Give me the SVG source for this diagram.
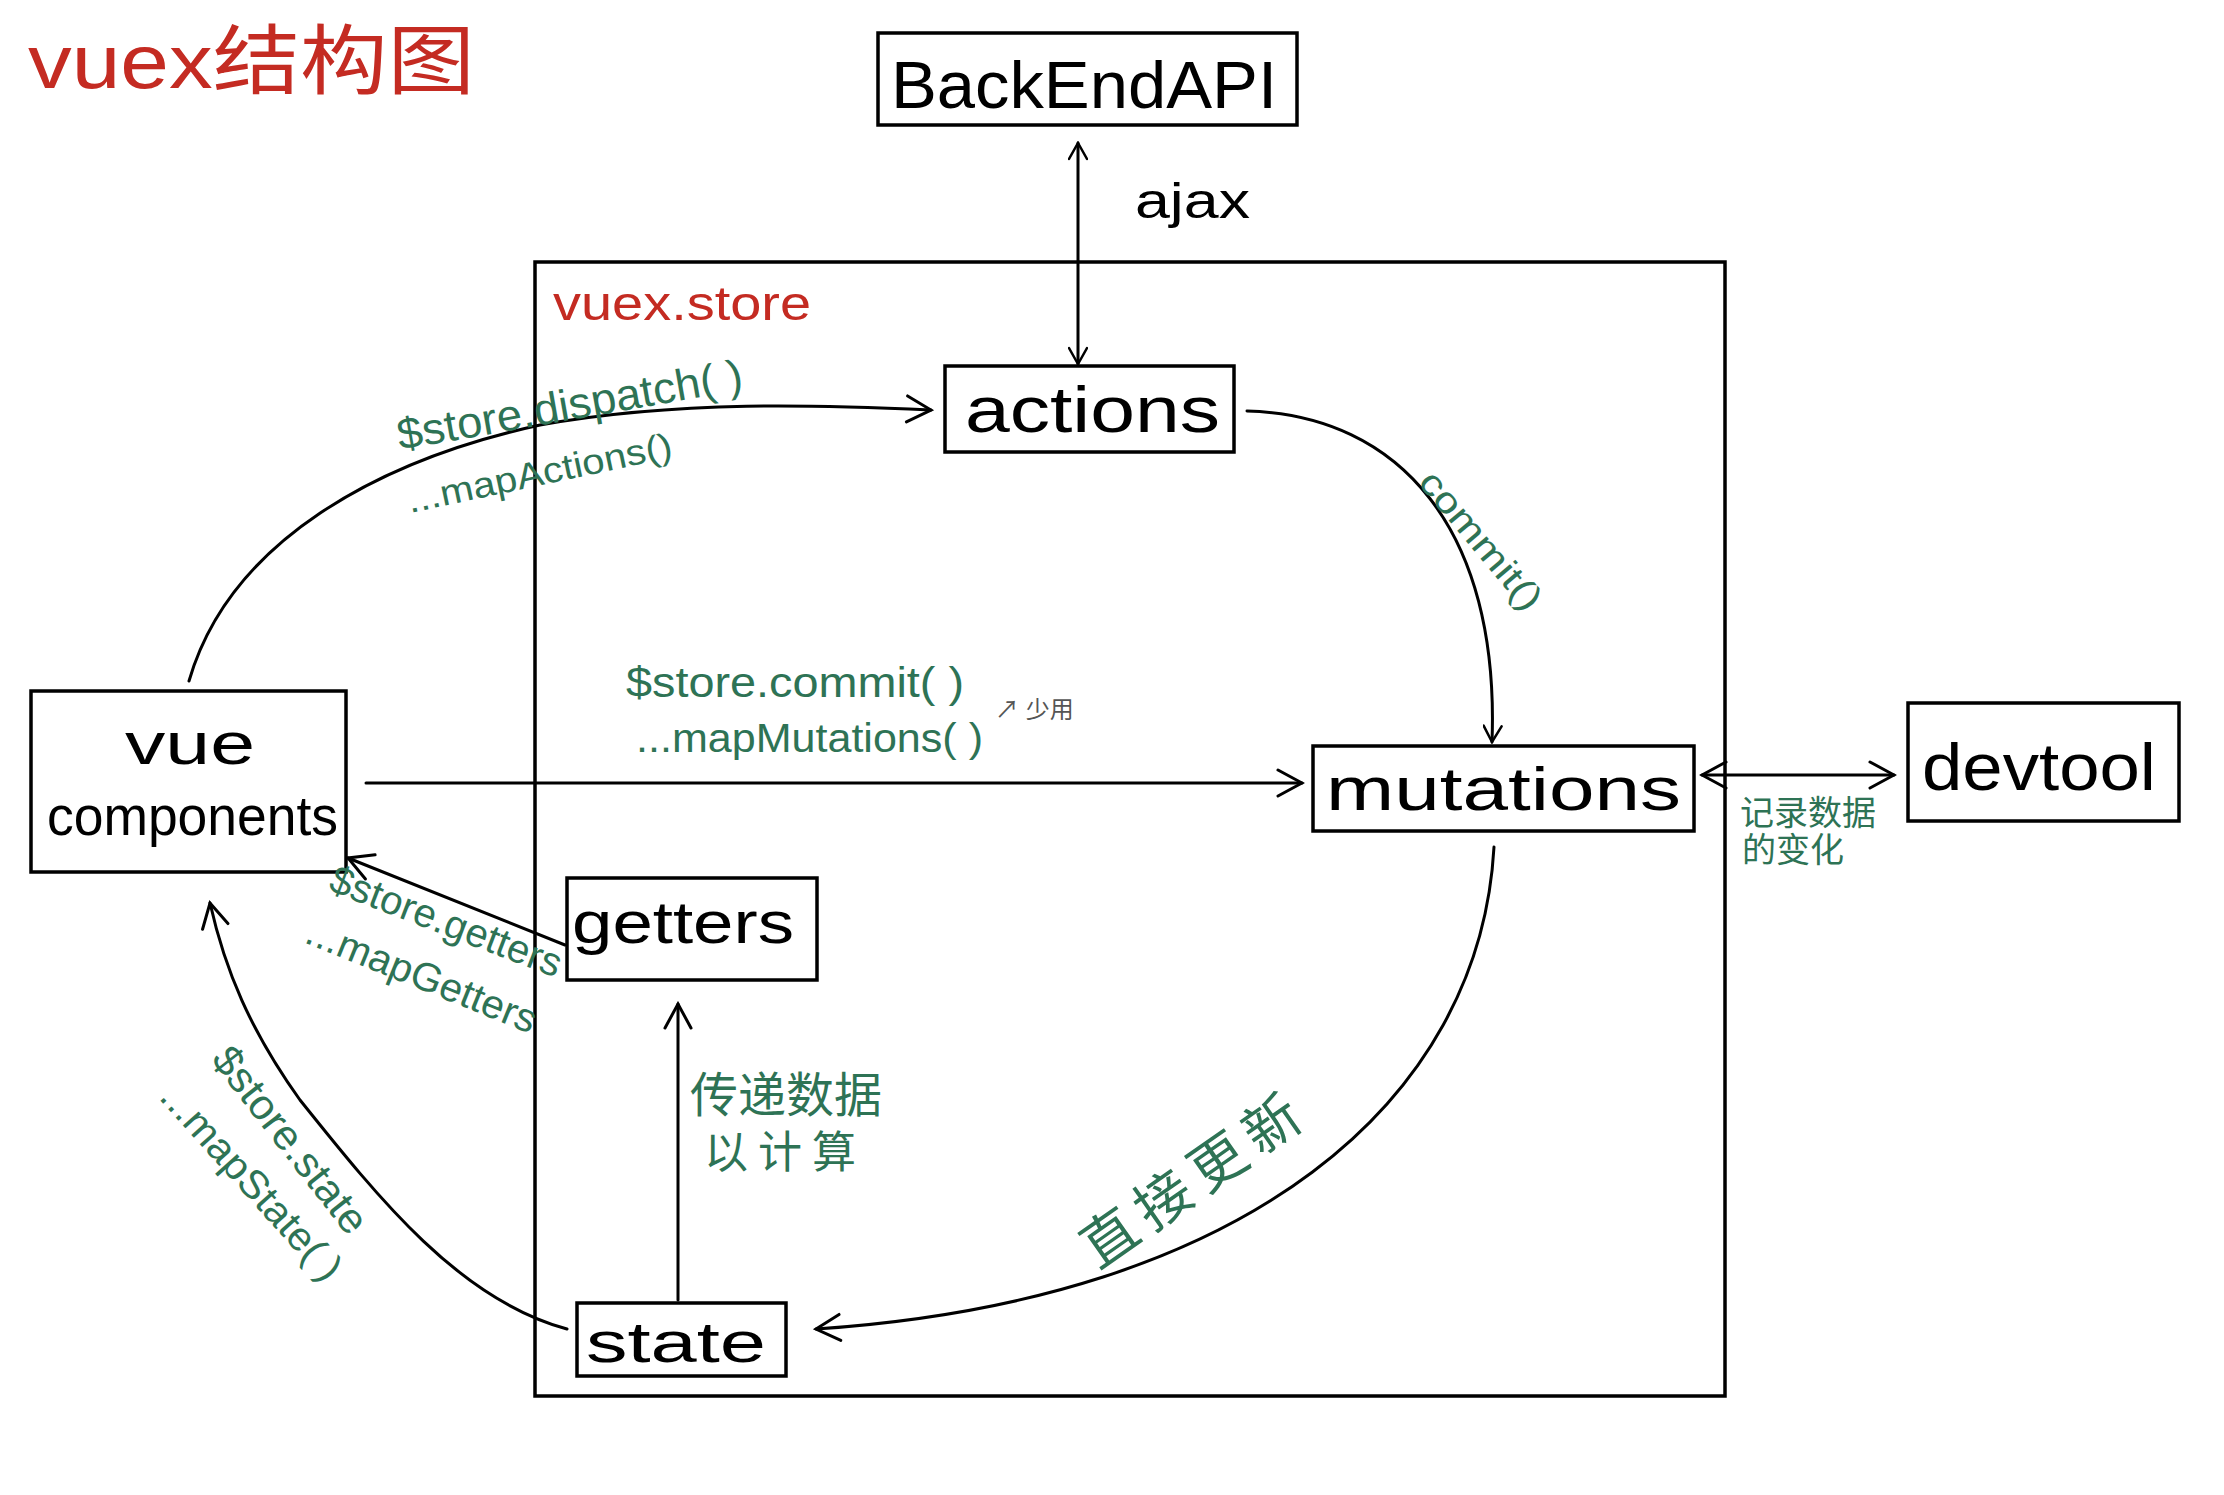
<svg xmlns="http://www.w3.org/2000/svg" width="2224" height="1495" viewBox="0 0 2224 1495">
<defs>
<style>
.box{fill:none;stroke:#000;stroke-width:3.5}
.lbl{font-family:"Liberation Sans","Noto Sans CJK SC",sans-serif;fill:#000}
.g{font-family:"Liberation Sans","Noto Sans CJK SC",sans-serif;fill:#2e7355}
.r{font-family:"Liberation Sans","Noto Sans CJK SC",sans-serif;fill:#c42b22}
.c{fill:none;stroke:#000;stroke-width:3;stroke-linecap:round}
</style>
<marker id="ah" viewBox="0 0 20 20" refX="18" refY="10" markerWidth="20" markerHeight="20" markerUnits="userSpaceOnUse" orient="auto-start-reverse">
<path d="M2,1 L18,10 L2,19" fill="none" stroke="#000" stroke-width="2.5" stroke-linecap="round"/>
</marker>
<marker id="ahb" viewBox="0 0 30 30" refX="27" refY="15" markerWidth="30" markerHeight="30" markerUnits="userSpaceOnUse" orient="auto-start-reverse">
<path d="M3,2 L27,15 L3,28" fill="none" stroke="#000" stroke-width="3" stroke-linecap="round"/>
</marker>
</defs>
<rect width="2224" height="1495" fill="#fff"/>
<text class="r" x="28" y="88" font-size="76" textLength="447" lengthAdjust="spacingAndGlyphs">vuex结构图</text>

<g id="store">
<rect class="box" x="535" y="262" width="1190" height="1134"/>
<text class="r" x="553" y="320" font-size="48" textLength="258" lengthAdjust="spacingAndGlyphs">vuex.store</text>
</g>

<g id="backend">
<rect class="box" x="878" y="33" width="419" height="92"/>
<text class="lbl" x="891" y="108" font-size="66" textLength="386" lengthAdjust="spacingAndGlyphs">BackEndAPI</text>
</g>
<g id="actions">
<rect class="box" x="945" y="366" width="289" height="86"/>
<text class="lbl" x="965" y="432" font-size="64" textLength="255" lengthAdjust="spacingAndGlyphs">actions</text>
</g>
<g id="mutations">
<rect class="box" x="1313" y="746" width="381" height="85"/>
<text class="lbl" x="1326" y="810" font-size="62" textLength="355" lengthAdjust="spacingAndGlyphs">mutations</text>
</g>
<g id="devtool">
<rect class="box" x="1908" y="703" width="271" height="118"/>
<text class="lbl" x="1922" y="790" font-size="66" textLength="234" lengthAdjust="spacingAndGlyphs">devtool</text>
</g>
<g id="vue">
<rect class="box" x="31" y="691" width="315" height="181"/>
<text class="lbl" x="125" y="764" font-size="60" textLength="130" lengthAdjust="spacingAndGlyphs">vue</text>
<text class="lbl" x="47" y="835" font-size="56" textLength="291" lengthAdjust="spacingAndGlyphs">components</text>
</g>
<g id="getters">
<rect class="box" x="567" y="878" width="250" height="102"/>
<text class="lbl" x="572" y="943" font-size="60" textLength="222" lengthAdjust="spacingAndGlyphs">getters</text>
</g>
<g id="state">
<rect class="box" x="577" y="1303" width="209" height="73"/>
<text class="lbl" x="586" y="1362" font-size="58" textLength="180" lengthAdjust="spacingAndGlyphs">state</text>
</g>

<g id="connectors">
<line class="c" x1="1078" y1="143" x2="1078" y2="364" marker-start="url(#ah)" marker-end="url(#ah)"/>
<path class="c" d="M189,681 C230,540 380,460 540,425 C680,400 820,405 931,410" marker-end="url(#ahb)"/>
<path class="c" d="M1247,411 C1400,415 1500,530 1492,742" marker-end="url(#ah)"/>
<line class="c" x1="366" y1="783" x2="1302" y2="783" marker-end="url(#ahb)"/>
<line class="c" x1="1702" y1="775" x2="1894" y2="775" marker-start="url(#ahb)" marker-end="url(#ahb)"/>
<line class="c" x1="565" y1="945" x2="348" y2="858" marker-end="url(#ahb)"/>
<line class="c" x1="678" y1="1300" x2="678" y2="1004" marker-end="url(#ahb)"/>
<path class="c" d="M1494,847 C1480,1100 1250,1300 816,1329" marker-end="url(#ahb)"/>
<path class="c" d="M567,1329 C460,1300 380,1200 300,1100 C250,1030 225,970 210,903" marker-end="url(#ahb)"/>
</g>

<g id="labels">
<text class="lbl" x="1135" y="218" font-size="50" textLength="115" lengthAdjust="spacingAndGlyphs">ajax</text>
<text class="g" x="400" y="450" font-size="44" transform="rotate(-10 400 450)" textLength="350" lengthAdjust="spacingAndGlyphs">$store.dispatch( )</text>
<text class="g" x="410" y="513" font-size="36" transform="rotate(-12 410 513)" textLength="270" lengthAdjust="spacingAndGlyphs">...mapActions()</text>
<text class="g" x="1417" y="483" font-size="36" transform="rotate(50 1417 483)" textLength="170" lengthAdjust="spacingAndGlyphs">commit()</text>
<text class="g" x="626" y="697" font-size="42" textLength="338" lengthAdjust="spacingAndGlyphs">$store.commit( )</text>
<text class="g" x="636" y="752" font-size="40" textLength="347" lengthAdjust="spacingAndGlyphs">...mapMutations( )</text>
<text x="995" y="718" font-size="24" fill="#555" font-family="Liberation Sans,Noto Sans CJK SC,sans-serif">↗ 少用</text>
<text class="g" x="1740" y="825" font-size="34">记录数据</text>
<text class="g" x="1742" y="862" font-size="34">的变化</text>
<text class="g" x="327" y="890" font-size="40" transform="rotate(21 327 890)" textLength="245" lengthAdjust="spacingAndGlyphs">$store.getters</text>
<text class="g" x="303" y="942" font-size="40" transform="rotate(22 303 942)" textLength="245" lengthAdjust="spacingAndGlyphs">...mapGetters</text>
<text class="g" x="690" y="1112" font-size="48">传递数据</text>
<text class="g" x="704" y="1168" font-size="44" letter-spacing="10">以计算</text>
<text class="g" x="1098" y="1270" font-size="56" transform="rotate(-35 1098 1270)" letter-spacing="10">直接更新</text>
<text class="g" x="210" y="1060" font-size="42" transform="rotate(52 210 1060)" textLength="225" lengthAdjust="spacingAndGlyphs">$store.state</text>
<text class="g" x="158" y="1098" font-size="40" transform="rotate(48 158 1098)" textLength="250" lengthAdjust="spacingAndGlyphs">...mapState( )</text>
</g>
</svg>
